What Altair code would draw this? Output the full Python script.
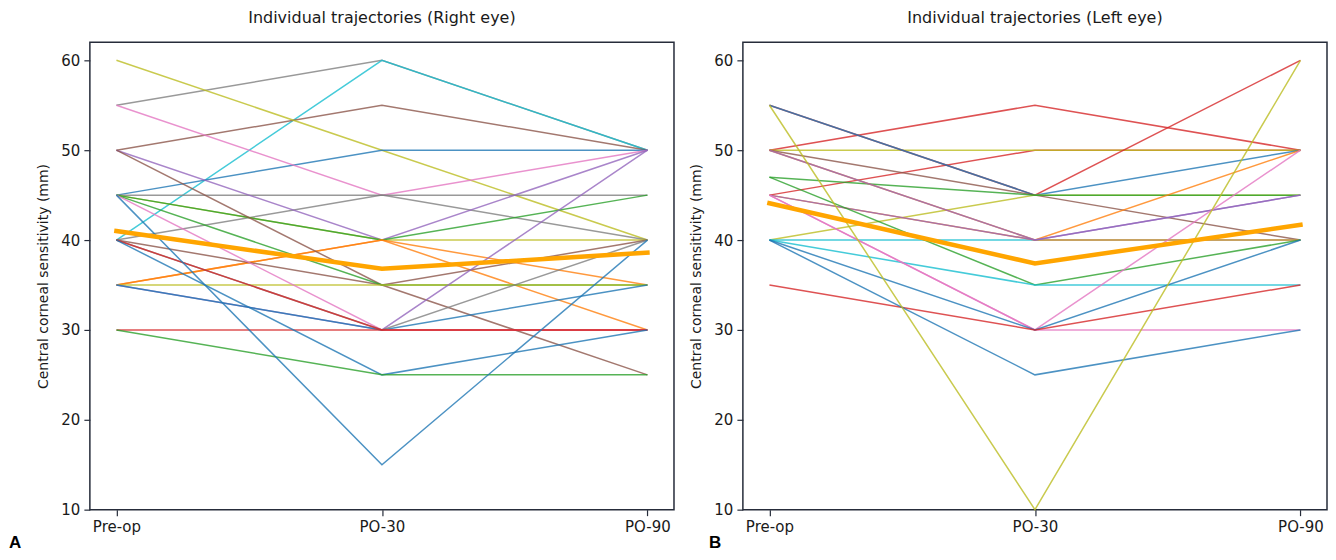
import altair as alt
import pandas as pd

stages = ["Pre-op", "PO-30", "PO-90"]
y_ticks = [10, 20, 30, 40, 50, 60]
panel_titles = ["Individual trajectories (Right eye)", "Individual trajectories (Left eye)"]
panel_tags = ["A", "B"]
y_title = "Central corneal sensitivity (mm)"

# Right eye (panel A), in drawing order
right_pre  = [55, 40, 50, 60, 45, 55, 45, 40, 50, 45, 45, 35, 35, 50, 40, 45, 35, 35, 35, 45, 40, 40, 30, 40, 30, 45]
right_po30 = [60, 60, 55, 50, 50, 45, 45, 45, 40, 40, 40, 40, 40, 35, 35, 35, 35, 30, 30, 30, 30, 30, 30, 25, 25, 15]
right_po90 = [50, 50, 50, 40, 50, 50, 45, 40, 50, 40, 45, 35, 30, 25, 40, 35, 35, 50, 35, 30, 40, 30, 30, 30, 25, 40]
right_cols = ["gray", "cyan", "brown", "olive", "blue", "pink", "gray", "gray", "purple", "olive",
              "green", "orange", "orange", "brown", "brown", "green", "olive", "purple", "blue", "pink",
              "gray", "red", "red", "blue", "green", "blue"]
right_mean = [41.0, 36.8, 38.6]

# Left eye (panel B), in drawing order
left_pre  = [50, 45, 50, 55, 55, 50, 40, 47, 40, 50, 45, 50, 45, 47, 40, 45, 45, 40, 35, 40, 55]
left_po30 = [55, 50, 50, 45, 45, 45, 45, 45, 40, 40, 40, 40, 40, 35, 35, 30, 30, 30, 30, 25, 10]
left_po90 = [50, 50, 50, 60, 50, 40, 45, 45, 40, 40, 50, 45, 45, 40, 35, 30, 50, 40, 35, 30, 60]
left_cols = ["red", "red", "olive", "red", "blue", "brown", "olive", "green", "cyan", "orange",
             "orange", "purple", "purple", "green", "cyan", "pink", "pink", "blue", "red", "blue", "olive"]
left_mean = [44.1, 37.4, 41.7]

TAB = {"blue": "#1f77b4", "orange": "#ff7f0e", "green": "#2ca02c", "red": "#d62728",
       "purple": "#9467bd", "brown": "#8c564b", "pink": "#e377c2", "gray": "#7f7f7f",
       "olive": "#bcbd22", "cyan": "#17becf"}
MEAN_COLOR = "#FFA500"
FONT = "DejaVu Sans"


def panel(pre, po30, po90, cols, mean, title, tag, tag_x):
    rows = []
    pids = []
    for i, vals in enumerate(zip(pre, po30, po90)):
        pid = f"{tag}{i:02d}"
        pids.append(pid)
        for k, (s, v) in enumerate(zip(stages, vals)):
            rows.append({"pid": pid, "stage": s, "idx": k, "value": v})
    df = pd.DataFrame(rows)

    x = alt.X("stage:O", sort=stages,
              scale=alt.Scale(type="point", padding=0.1),
              axis=alt.Axis(title=None, labelAngle=0))
    y = alt.Y("value:Q", scale=alt.Scale(domain=[10, 62], nice=False, zero=False),
              axis=alt.Axis(values=y_ticks, title=y_title))

    lines = alt.Chart(df).mark_line(strokeWidth=1.5, opacity=0.8).encode(
        x=x, y=y,
        color=alt.Color("pid:N", scale=alt.Scale(domain=pids, range=[TAB[c] for c in cols]), legend=None),
        order=alt.Order("idx:Q"),
    )
    mdf = pd.DataFrame({"stage": stages, "idx": [0, 1, 2], "value": mean})
    mean_line = alt.Chart(mdf).mark_line(color=MEAN_COLOR, strokeWidth=4.5, strokeCap="square").encode(
        x=x, y=y, order=alt.Order("idx:Q"))
    lab = alt.Chart(pd.DataFrame({"t": [tag]})).mark_text(
        font="Liberation Sans", fontWeight="bold", fontSize=17, align="left", baseline="middle",
        color="#000000").encode(x=alt.value(tag_x), y=alt.value(501.5), text="t:N")

    return alt.layer(lines, mean_line, lab).properties(
        width=585, height=468,
        title=alt.TitleParams(title, font=FONT, fontSize=16, fontWeight="normal", color="#1a1a1a", offset=16),
    )


left = panel(right_pre, right_po30, right_po90, right_cols, right_mean, panel_titles[0], panel_tags[0], -81)
right = panel(left_pre, left_po30, left_po90, left_cols, left_mean, panel_titles[1], panel_tags[1], -34)

chart = alt.hconcat(left, right, spacing=14).resolve_scale(color="independent").properties(
    padding={"left": 0, "top": 1, "right": 0, "bottom": 0}
).configure_view(
    stroke="#262c3a", strokeWidth=1.5
).configure_axis(
    domain=False, ticks=True, tickColor="#262c3a", tickSize=6, tickWidth=1.2,
    labelFont=FONT, labelFontSize=15, labelColor="#1a1a1a", labelPadding=4,
    titleFont=FONT, titleFontSize=14, titleFontWeight="normal", titleColor="#1a1a1a", titlePadding=10,
    grid=False,
).configure_title(anchor="middle")

chart.save("out.html", embed_options={"renderer": "svg", "actions": False})
